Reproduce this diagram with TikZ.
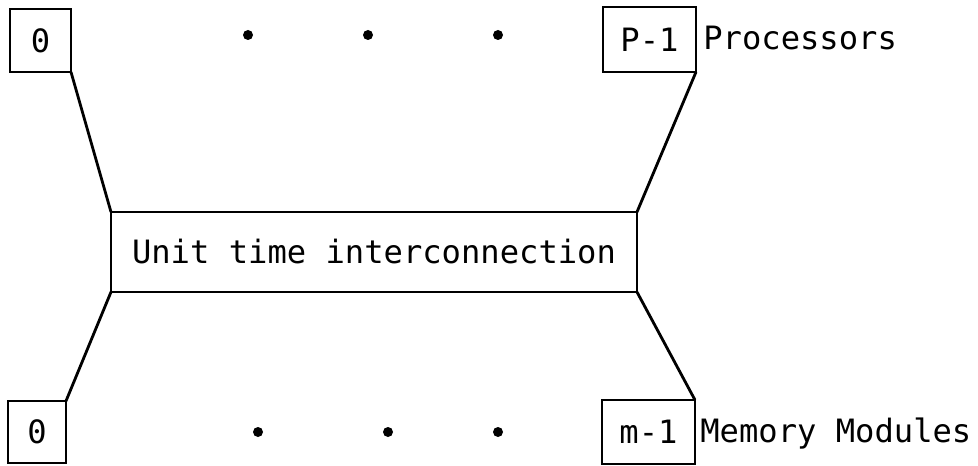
\documentclass[tikz,border=0pt]{standalone}
\usepackage{fontspec}
\setmonofont{DejaVu Sans Mono}
\usetikzlibrary{positioning}
\tikzset{
  unitbox/.style={rectangle, draw, line width=1.6pt, outer sep=0pt, inner sep=0pt,
                  font=\ttfamily\fontsize{18.3}{22}\selectfont},
  netbox/.style={unitbox, minimum width=526*0.02cm, minimum height=80*0.02cm},
  link/.style={line width=1.6pt},
  sidelabel/.style={font=\ttfamily\fontsize{18.3}{22}\selectfont, inner sep=0pt},
  dot/.style={circle, fill, inner sep=0pt, minimum size=10*0.02cm},
}
\begin{document}
\begin{tikzpicture}[x=0.02cm, y=-0.02cm]
  \useasboundingbox (0,0) rectangle (978,466);

  % --- Processors ---
  \node[unitbox, minimum width=61*0.02cm, minimum height=63*0.02cm] (p0) at (40.5,40.5) {0};
  \node[unitbox, minimum width=93*0.02cm, minimum height=65*0.02cm] (pl) at (649.5,39.5) {P-1};
  \node[sidelabel, anchor=base west] (plab) at (703,50) {Processors};

  % --- Interconnection ---
  \node[netbox] (net) at (374,252) {Unit time interconnection};

  % --- Memory modules ---
  \node[unitbox, minimum width=58*0.02cm, minimum height=62*0.02cm] (m0) at (37,432) {0};
  \node[unitbox, minimum width=93*0.02cm, minimum height=64*0.02cm] (ml) at (648.5,432) {m-1};
  \node[sidelabel, anchor=base west] (mlab) at (700,442) {Memory Modules};

  % --- Dots ---
  \foreach \x/\n in {248/1, 368/2, 498/3}
    \node[dot] (pd\n) at (\x,35) {};
  \foreach \x/\n in {258/1, 388/2, 498/3}
    \node[dot] (md\n) at (\x,432) {};

  % --- Links ---
  \draw[link] (p0.south east) -- (net.north west);
  \draw[link] (pl.south east) -- (net.north east);
  \draw[link] (net.south west) -- (m0.north east);
  \draw[link] (net.south east) -- (ml.north east);
\end{tikzpicture}
\end{document}
